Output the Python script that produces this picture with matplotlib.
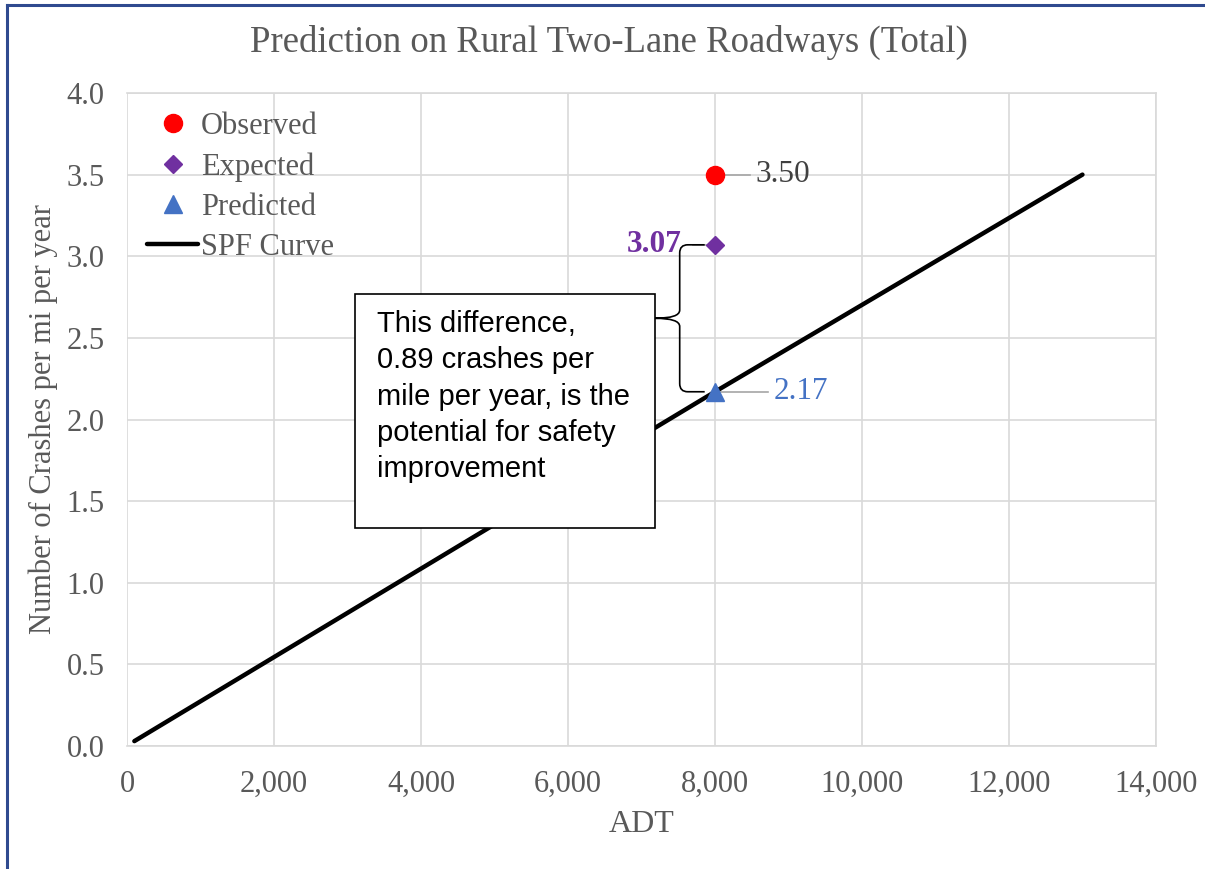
import matplotlib
matplotlib.use("Agg")
import matplotlib.pyplot as plt
from matplotlib.path import Path
from matplotlib.patches import PathPatch, Rectangle
from matplotlib.ticker import FuncFormatter, MultipleLocator

# dados
adt_ponto = 8000
observado = 3.50
esperado = 3.07
previsto = 2.17

spf_adt = [100, 8000, 13000]
spf_valores = [0.03, 2.17, 3.50]

texto_caixa = "This difference,\n0.89 crashes per\nmile per year, is the\npotential for safety\nimprovement"

cinza = "#595959"
serif = ["Liberation Serif", "DejaVu Serif"]

fig = plt.figure(figsize=(12.05, 8.69), dpi=100)
ax = fig.add_axes([0.1054, 0.1415, 0.8539, 0.7515])

# Curva SPF
ax.plot(spf_adt, spf_valores, color="black", lw=3.2, solid_capstyle="round",
        label="SPF Curve", zorder=3)

# Pontos
ax.plot([adt_ponto], [observado], "o", color="#ff0000", ms=13, label="Observed", zorder=5)
ax.plot([adt_ponto], [esperado], "D", color="#7030a0", ms=9.5, label="Expected", zorder=5)
ax.plot([adt_ponto], [previsto], "^", color="#4472c4", ms=13, label="Predicted", zorder=5)

ax.set_xlim(0, 14000)
ax.set_ylim(0, 4.0)
ax.xaxis.set_major_locator(MultipleLocator(2000))
ax.yaxis.set_major_locator(MultipleLocator(0.5))
ax.xaxis.set_major_formatter(FuncFormatter(lambda v, p: f"{v:,.0f}"))
ax.yaxis.set_major_formatter(FuncFormatter(lambda v, p: f"{v:.1f}"))
ax.grid(True, color="#d9d9d9", lw=1.2, zorder=0)
ax.set_axisbelow(True)
for s in ax.spines.values():
    s.set_color("#d9d9d9")
    s.set_linewidth(1.2)
ax.spines["left"].set_visible(False)
ax.tick_params(length=0, labelsize=22, labelcolor=cinza)
ax.tick_params(axis="x", pad=17)
ax.tick_params(axis="y", pad=16)
for lbl in ax.get_xticklabels() + ax.get_yticklabels():
    lbl.set_family(serif)

ax.set_xlabel("ADT", fontsize=23, color=cinza, family=serif, labelpad=8)
ax.set_ylabel("Number of Crashes per mi per year", fontsize=22, color=cinza,
              family=serif, labelpad=6)
fig.text(0.505, 0.951, "Prediction on Rural Two-Lane Roadways (Total)",
         ha="center", va="center", fontsize=26.5, color=cinza, family=serif)

# Rótulos de dados com linhas de chamada
def rotulo(y, texto, cor, dx1, dtexto, ha, peso="normal"):
    ax.plot([adt_ponto, adt_ponto + dx1], [y, y], color="#a6a6a6", lw=1.2, zorder=4)
    ax.text(adt_ponto + dx1 + dtexto, y, texto, ha=ha,
            va="center", fontsize=22.5, color=cor, family=serif, weight=peso)

rotulo(observado, "3.50", "#404040", 470, 80, "left")
rotulo(esperado, "3.07", "#7030a0", -300, -150, "right", "bold")
rotulo(previsto, "2.17", "#4472c4", 720, 80, "left")

# Caixa de texto
caixa = Rectangle((0.2216, 0.3338), 0.2914, 0.3582, transform=ax.transAxes,
                  facecolor="white", edgecolor="black", lw=1.2, zorder=6)
ax.add_patch(caixa)
ax.text(0.2425, 0.668, texto_caixa, transform=ax.transAxes, ha="left", va="top",
        fontsize=21, family=["Liberation Sans", "DejaVu Sans"], color="black",
        linespacing=1.38, zorder=7)

# Chave ligando esperado e previsto
xs, xe, xt = 7520, 7860, 7185
rx, ry = 110, 0.05
ym = (esperado + previsto) / 2
verts = [
    (xe, esperado), (xs + rx, esperado),
    (xs, esperado), (xs, esperado - ry),
    (xs, ym + ry),
    (xs, ym), (xt, ym),
    (xs, ym), (xs, ym - ry),
    (xs, previsto + ry),
    (xs, previsto), (xs + rx, previsto),
    (xe, previsto),
]
codes = [Path.MOVETO, Path.LINETO,
         Path.CURVE3, Path.CURVE3,
         Path.LINETO,
         Path.CURVE3, Path.CURVE3,
         Path.CURVE3, Path.CURVE3,
         Path.LINETO,
         Path.CURVE3, Path.CURVE3,
         Path.LINETO]
ax.add_patch(PathPatch(Path(verts, codes), facecolor="none", edgecolor="black",
                       lw=1.2, zorder=4))

# Legenda
leg = ax.legend(handles=[ax.lines[1], ax.lines[2], ax.lines[3], ax.lines[0]],
                loc="upper left", bbox_to_anchor=(0.008, 0.99), frameon=False,
                prop={"family": serif, "size": 22}, labelcolor=cinza,
                handlelength=1.65, handletextpad=0.1, labelspacing=0.37,
                borderaxespad=0)

# Moldura da figura (topo e esquerda)
fig.add_artist(plt.Line2D([0.006, 1.0], [0.9945, 0.9945], transform=fig.transFigure,
                          color="#2f4a8f", lw=2.2))
fig.add_artist(plt.Line2D([0.006, 0.006], [0.0, 0.9945], transform=fig.transFigure,
                          color="#2f4a8f", lw=2.2))

fig.savefig("out.png", dpi=100)
